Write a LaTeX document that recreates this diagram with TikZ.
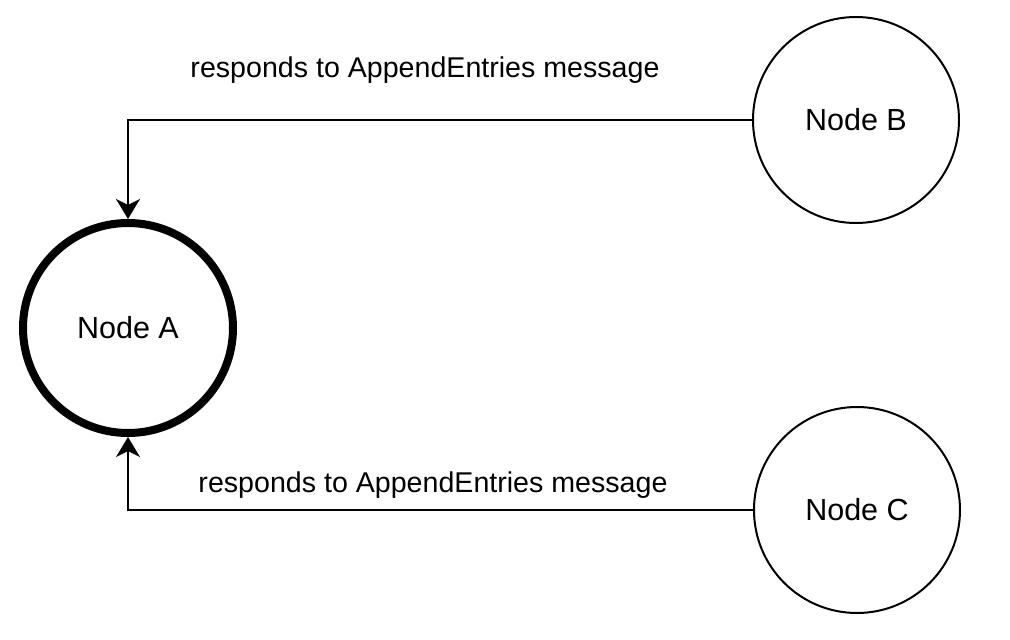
\documentclass[tikz,border=0pt]{standalone}
\usepackage{fontspec}
\setmainfont{Liberation Sans}
\usetikzlibrary{arrows.meta}
\begin{document}
\begin{tikzpicture}[x=1pt,y=-1pt,
  nodecirc/.style={circle,draw,line width=2pt,minimum size=206pt,inner sep=0pt,
    font=\fontsize{30.5}{36}\selectfont},
  leadercirc/.style={nodecirc,line width=8pt,minimum size=210pt},
  conn/.style={line width=2pt,-{Stealth[length=20pt,width=24pt,inset=6pt]}},
  lbl/.style={anchor=base,inner sep=0pt,font=\fontsize{28.6}{34}\selectfont}]
\useasboundingbox (0,0) rectangle (1010,640);
\node[leadercirc] (A) at (128,328) {Node A};
\node[nodecirc] (B) at (856,120) {Node B};
\node[nodecirc] (C) at (857,510) {Node C};
\draw[conn] (B.west) -| (A.north);
\draw[conn] (C.west) -| (A.south);
\node[lbl] (l1) at (425,77) {responds to AppendEntries message};
\node[lbl] (l2) at (433,492) {responds to AppendEntries message};
\end{tikzpicture}
\end{document}
